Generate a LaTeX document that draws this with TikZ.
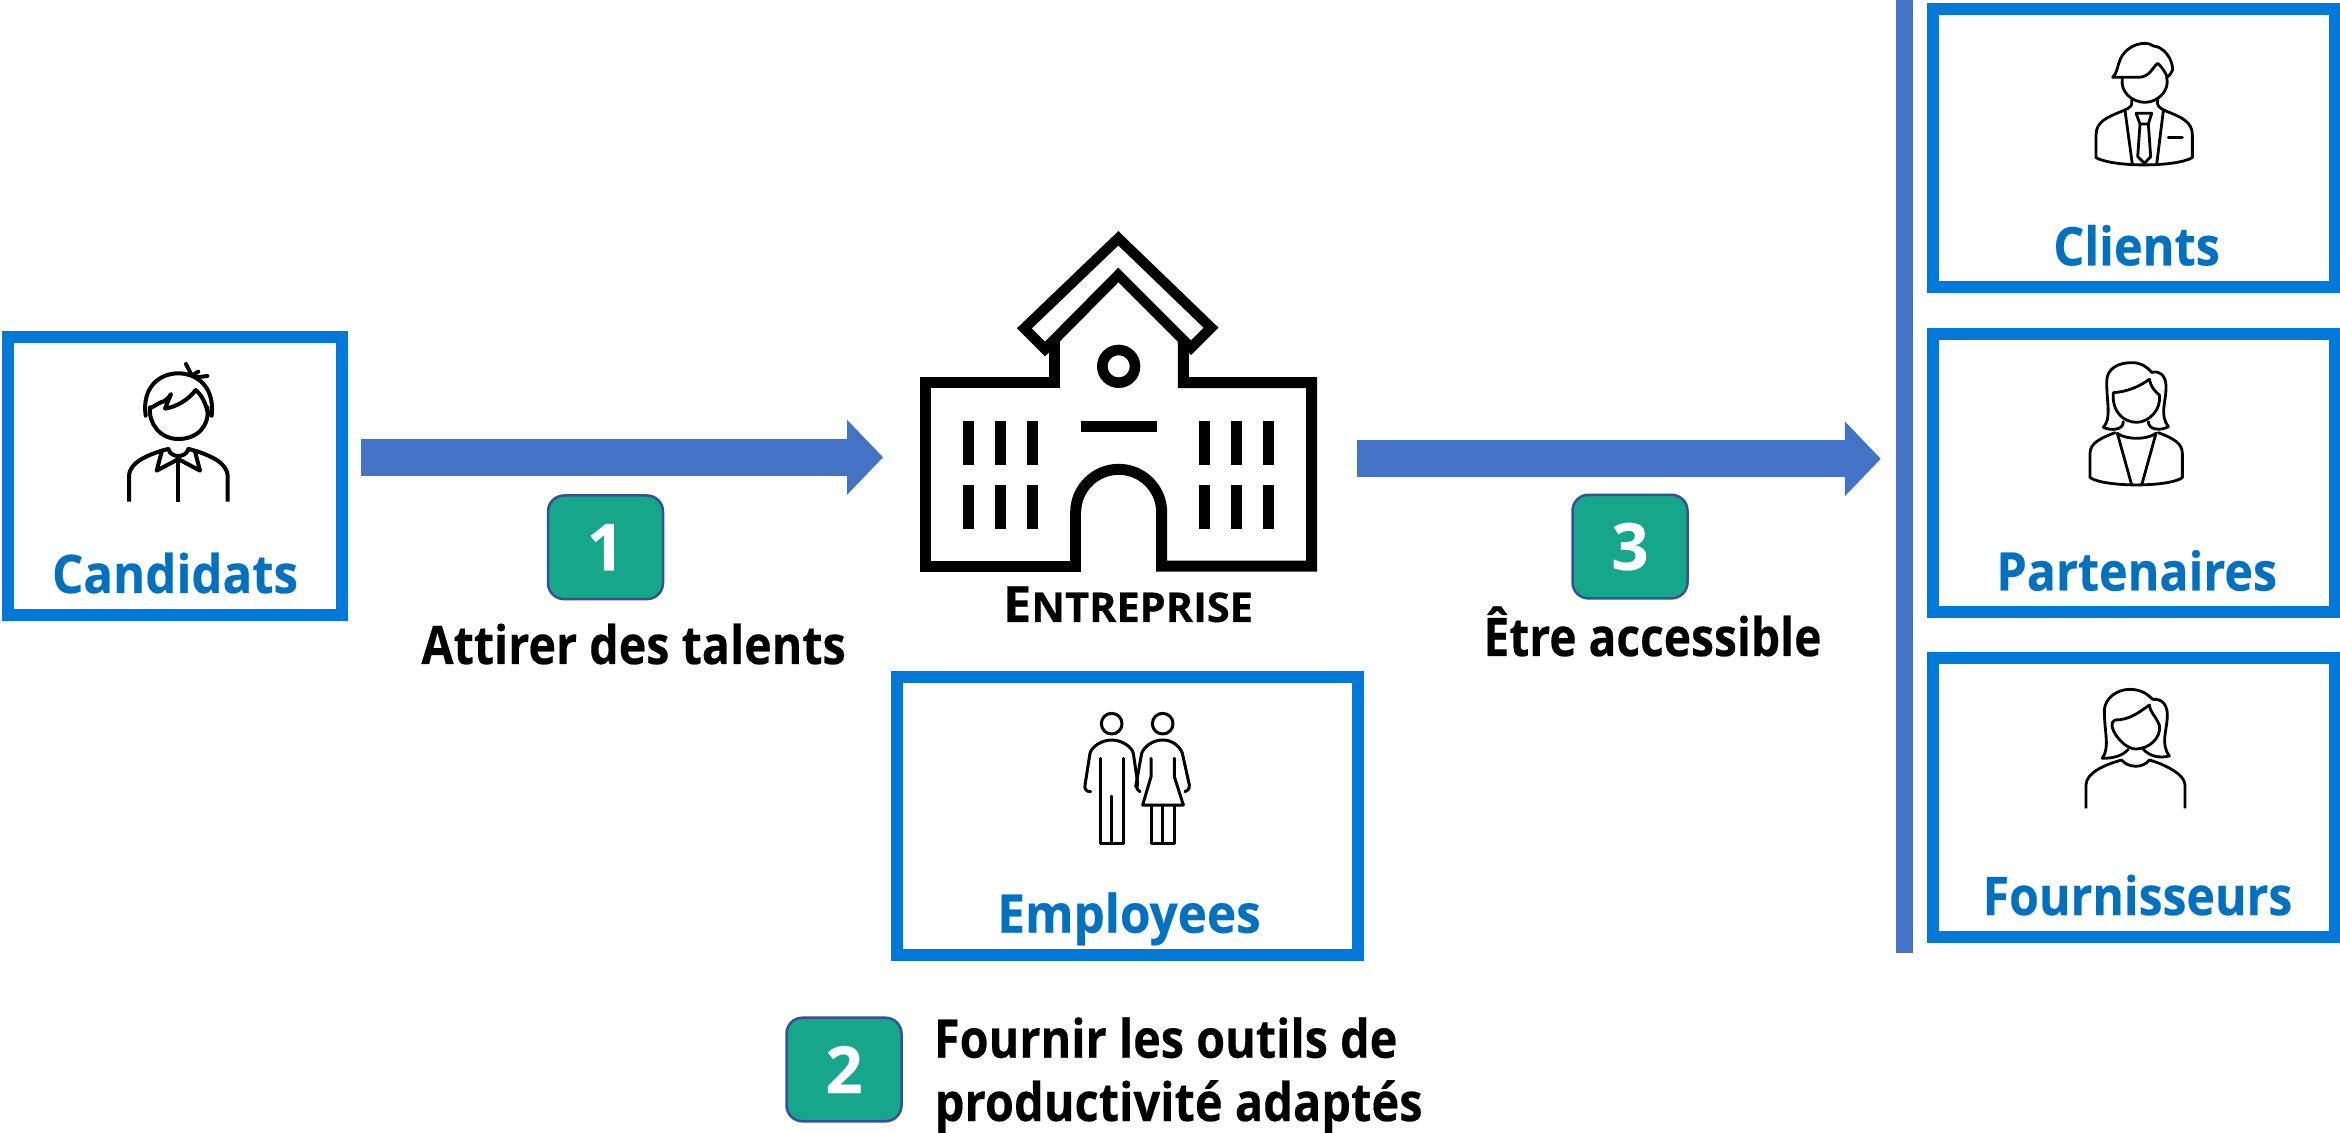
\documentclass[tikz,border=0pt]{standalone}
\usepackage{fontspec}
\setmainfont{Open Sans}[BoldFont={Open Sans Bold},BoldFeatures={FakeBold=0.35}]
\usetikzlibrary{arrows.meta}
\definecolor{boxblue}{HTML}{0078D7}
\definecolor{textblue}{HTML}{0070C0}
\definecolor{arrowblue}{HTML}{4472C4}
\definecolor{badgefill}{HTML}{16A78A}
\definecolor{badgeline}{HTML}{34509A}
\newcommand{\fitw}[2]{\resizebox{#1pt}{\height}{#2}}
\tikzset{
  panel/.style={draw=boxblue,line width=6pt,inner sep=0pt,minimum height=139pt},
  bluelabel/.style={anchor=base west,inner sep=0pt,outer sep=0pt,text=textblue,font=\fontsize{26.6}{30}\selectfont\bfseries},
  blacklabel/.style={anchor=base west,inner sep=0pt,outer sep=0pt,text=black,font=\fontsize{26.6}{30}\selectfont\bfseries},
  badge/.style={draw=badgeline,line width=1.25pt,fill=badgefill,rounded corners=8pt,inner sep=0pt,
    minimum width=57.5pt,minimum height=51.8pt,text=white,font=\fontsize{32.5}{36}\selectfont\bfseries},
  bigarrow/.style={draw=arrowblue,line width=18.3pt,-{Triangle[length=18pt,width=36.4pt,fill=arrowblue]}},
  iconheavy/.style={line width=5.5pt,draw=black,miter limit=10},
  iconthin/.style={line width=#1,draw=black,line cap=round,line join=round},
  iconthin/.default=1.4pt,
  zoomed/.style={x=.166667pt,y=-.166667pt}
}
\begin{document}
\begin{tikzpicture}[x=.5pt,y=-.5pt]
\useasboundingbox (0,0) rectangle (2340,1133);
\clip (0,0) rectangle (2340,1133);
\fill[white] (0,0) rectangle (2340,1133);

% panels
\node[panel,minimum width=167.15pt] (cand) at (174.85,476) {};
\node[panel,minimum width=230.2pt] (empl) at (1127.5,815.7) {};
\node[panel,minimum width=200.7pt] (clie) at (2134,148) {};
\node[panel,minimum width=200.7pt] (part) at (2134,473) {};
\node[panel,minimum width=200.7pt] (four) at (2134,797.5) {};
\node[fill=arrowblue,inner sep=0pt,outer sep=0pt,minimum width=8.5pt,minimum height=476.35pt] (bar) at (1904.5,476.35) {};
\node[inner sep=0pt,outer sep=0pt,minimum width=199pt,minimum height=116pt] (building) at (1118.3,415) {};

% connectors
\coordinate (yone) at (0,457.3);
\coordinate (ythree) at (0,458.8);
\draw[bigarrow,shorten <=6.5pt,shorten >=18.1pt] (cand.east |- yone) -- (building.west |- yone);
\draw[bigarrow,shorten <=20pt,shorten >=7.6pt] (building.east |- ythree) -- (bar.west |- ythree);

% badges
\node[badge] (bone) at (605.5,547.3) {1};
\node[badge] (bthree) at (1630,546.6) {3};
\node[badge] (btwo) at (844,1069.5) {2};

% labels
\node[bluelabel] (tcand) at (52,593) {\fitw{123}{Candidats}};
\node[bluelabel] (templ) at (997.3,932.7) {\fitw{131.7}{Employees}};
\node[bluelabel] (tclie) at (2053.3,265.3) {\fitw{83.3}{Clients}};
\node[bluelabel] (tpart) at (1996.4,590.5) {\fitw{140.3}{Partenaires}};
\node[bluelabel] (tfour) at (1982.7,915) {\fitw{154.8}{Fournisseurs}};
\node[blacklabel] (tone) at (421.4,664) {\fitw{212.2}{Attirer des talents}};
\node[blacklabel] (tthree) at (1483.5,656) {\fitw{169}{Être accessible}};
\node[blacklabel] (ttwoa) at (934,1057.7) {\fitw{231.7}{Fournir les outils de}};
\node[blacklabel] (ttwob) at (934.8,1121) {\fitw{243.9}{productivité adaptés}};
\node[blacklabel] (tent) at (1003,622) {\fitw{125}{{\fontsize{25}{28}\selectfont E}{\fontsize{20.5}{28}\selectfont NTREPRISE}}};

% building icon
\begin{scope}[shift={(900,220)},zoomed]
  \draw[iconheavy] (527,877) arc[start angle=180,end angle=360,radius=129] -- (785,1038) -- (1235,1038) -- (1235,488) -- (850,488) -- (850,362);
  \draw[iconheavy] (462,362) -- (462,488) -- (75,488) -- (75,1038) -- (527,1038) -- (527,877);
  \draw[iconheavy,line width=5.2pt] (655,55) -- (933,323) -- (873,383) -- (655,165) -- (435,387) -- (373,325) -- cycle;
  \draw[line width=5.3pt] (656,439) circle[radius=49];
  \fill (543,603) rectangle (771,636);
  \foreach \wx in {189,285,381,897,993,1089} {
    \fill (\wx,603) rectangle ++(33,132);
    \fill (\wx,795) rectangle ++(33,132);
  }
\end{scope}

% candidate icon
\begin{scope}[shift={(0,320)},zoomed]
  \begin{scope}[iconthin=2pt]
  \draw (437,287) .. controls (425,200) and (480,160) .. (535,160) .. controls (590,160) and (645,200) .. (635,287);
  \draw (450,262) .. controls (445,310) and (480,357) .. (535,357) .. controls (590,357) and (630,320) .. (622,262);
  \draw (450,265) -- (480,248) .. controls (495,245) and (505,235) .. (513,222) -- (495,266) .. controls (530,260) and (565,240) .. (587,210) .. controls (605,225) and (618,250) .. (625,285);
  \draw (558,132) -- (572,160) (578,165) -- (595,155) (590,172) -- (622,168);
  \draw[line cap=butt] (387,545) -- (387,470) .. controls (387,445) and (405,430) .. (420,420) .. controls (445,405) and (480,392) .. (505,387);
  \draw[line cap=butt] (683,545) -- (683,470) .. controls (683,445) and (665,430) .. (650,420) .. controls (625,405) and (590,392) .. (565,387);
  \draw (505,387) .. controls (512,415) and (558,415) .. (565,387);
  \draw[line cap=butt] (535,415) -- (535,545);
  \draw (485,395) -- (470,452) -- (530,420);
  \draw (585,395) -- (600,452) -- (540,420);
  \end{scope}
\end{scope}

% employees icon
\begin{scope}[shift={(1000,690)},zoomed]
  \begin{scope}[iconthin=1.5pt]
  \draw (335,101) circle[radius=31];
  \draw (488,101) circle[radius=31];
  \draw (272,305) .. controls (258,305) and (253,297) .. (255,285) -- (270,190) .. controls (275,170) and (305,150) .. (335,150) .. controls (365,150) and (395,170) .. (400,190) -- (413,280) .. controls (408,295) and (412,303) .. (420,305);
  \draw (300,205) -- (300,460) -- (370,460) -- (370,205);
  \draw (335,318) -- (335,460);
  \draw (407,290) -- (425,190) .. controls (432,170) and (458,150) .. (488,150) .. controls (518,150) and (540,170) .. (547,190) -- (568,285) .. controls (568,298) and (563,303) .. (555,305);
  \draw (453,205) -- (453,260) -- (428,345) -- (550,345) -- (523,260) -- (523,205);
  \draw (453,345) -- (453,460) -- (523,460) -- (523,345);
  \draw (488,345) -- (488,460);
  \end{scope}
\end{scope}

% client icon
\begin{scope}[shift={(2060,20)},zoomed]
  \begin{scope}[iconthin=1.4pt]
  \draw (158,172) .. controls (172,160) and (172,135) .. (182,115) .. controls (195,88) and (225,70) .. (255,70) .. controls (265,70) and (272,72) .. (280,78) .. controls (310,80) and (338,115) .. (338,150) .. controls (335,158) and (328,165) .. (322,172) .. controls (315,155) and (305,140) .. (293,130) .. controls (278,140) and (270,172) .. (235,172) -- cycle;
  \draw (187,175) .. controls (180,215) and (215,247) .. (255,247) .. controls (295,247) and (330,210) .. (320,172);
  \draw (215,240) .. controls (218,258) and (212,262) .. (190,272);
  \draw (293,240) .. controls (290,258) and (296,262) .. (315,272);
  \draw (190,272) .. controls (140,292) and (108,305) .. (108,345) -- (108,413) .. controls (160,442) and (345,442) .. (397,413) -- (397,345) .. controls (397,305) and (365,292) .. (315,272);
  \draw (195,272) -- (217,433);
  \draw (310,272) -- (290,433);
  \draw (228,280) -- (275,280) -- (265,312) -- (240,312) -- cycle;
  \draw (240,312) -- (233,410) -- (253,430) -- (272,410) -- (265,312);
  \draw (325,353) -- (367,353);
  \end{scope}
\end{scope}

% partner icon
\begin{scope}[shift={(2060,340)},zoomed]
  \begin{scope}[iconthin=1.4pt]
  \draw (190,245) .. controls (190,272) and (150,272) .. (130,262) .. controls (155,235) and (140,190) .. (140,125) .. controls (140,85) and (175,68) .. (215,68) .. controls (245,68) and (262,82) .. (275,97) .. controls (305,90) and (320,115) .. (318,145) .. controls (318,185) and (298,225) .. (325,260) .. controls (305,272) and (265,272) .. (265,245);
  \draw (160,158) .. controls (205,155) and (240,138) .. (268,118) .. controls (272,140) and (285,155) .. (298,165) .. controls (305,210) and (265,247) .. (230,247) .. controls (190,247) and (155,215) .. (160,158);
  \draw (172,280) .. controls (200,300) and (260,300) .. (288,280);
  \draw (165,278) .. controls (120,295) and (90,310) .. (90,340) -- (90,413) .. controls (135,442) and (325,442) .. (367,413) -- (367,340) .. controls (367,310) and (340,295) .. (295,278);
  \draw (172,280) -- (215,435);
  \draw (288,280) -- (245,435);
  \end{scope}
\end{scope}

% supplier icon
\begin{scope}[shift={(2060,670)},zoomed]
  \begin{scope}[iconthin=1.4pt]
  \draw (205,238) .. controls (190,255) and (165,265) .. (127,265) .. controls (150,230) and (133,190) .. (133,120) .. controls (135,85) and (170,58) .. (210,58) .. controls (245,58) and (265,75) .. (278,88) .. controls (310,85) and (322,110) .. (322,135) .. controls (322,180) and (300,220) .. (328,258) .. controls (300,265) and (270,260) .. (250,238);
  \draw (165,150) .. controls (210,150) and (240,125) .. (268,105) .. controls (272,130) and (285,135) .. (298,165) .. controls (305,205) and (265,237) .. (228,237) .. controls (185,237) and (135,160) .. (165,150);
  \draw (185,270) .. controls (205,295) and (250,295) .. (268,270);
  \draw[line cap=butt] (185,270) .. controls (130,285) and (78,310) .. (78,345) -- (78,415);
  \draw[line cap=butt] (268,270) .. controls (320,285) and (375,315) .. (375,345) -- (375,415);
  \end{scope}
\end{scope}
\end{tikzpicture}
\end{document}
